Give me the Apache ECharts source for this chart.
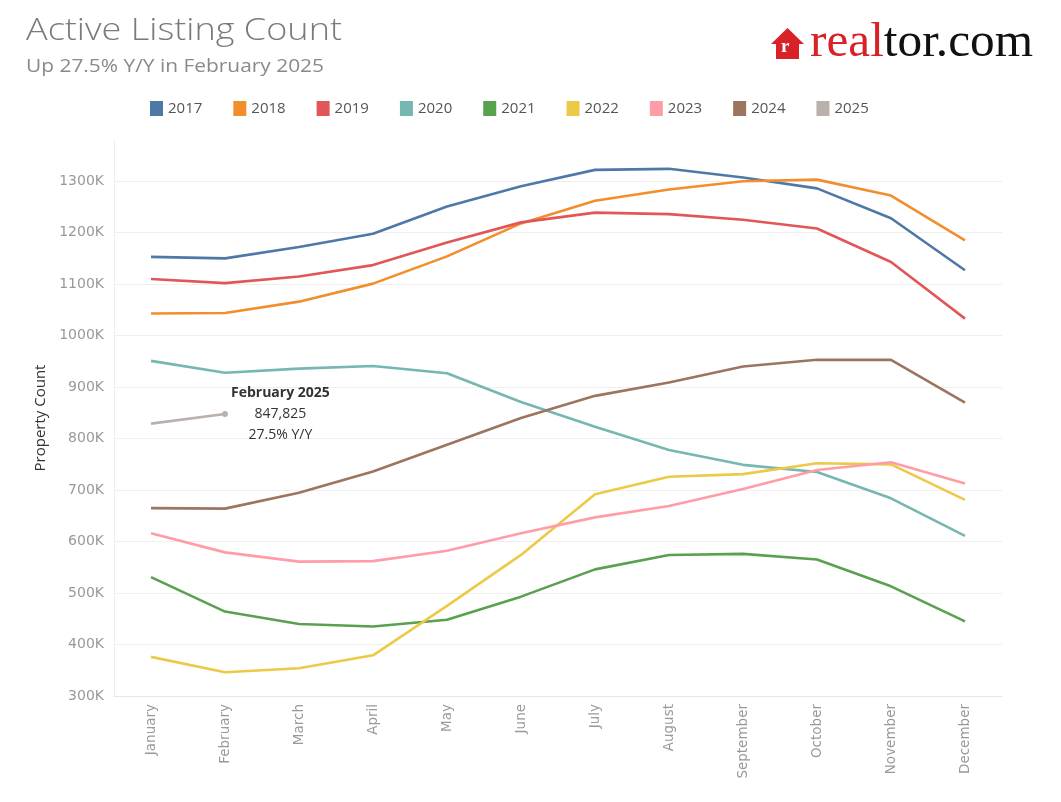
<!DOCTYPE html>
<html><head><meta charset="utf-8">
<script src="https://cdn.jsdelivr.net/npm/echarts@6/dist/echarts.min.js"></script>
<style>html,body{margin:0;padding:0;background:#fff}#c{width:1061px;height:802px}</style>
</head><body><div id="c"></div>
<script>
const months = ['January','February','March','April','May','June','July','August','September','October','November','December'];
const years = ['2017','2018','2019','2020','2021','2022','2023','2024','2025'];
const colors = ['#4e79a7','#f28e2b','#e15759','#76b7b2','#59a14f','#edc948','#ff9da7','#9c755f','#bab0ac'];
const y2017 = [1153000,1150000,1172000,1198000,1251000,1290000,1322000,1324000,1307000,1286000,1228000,1127000];
const y2018 = [1043000,1044000,1066000,1101000,1154000,1218000,1262000,1284000,1300000,1303000,1272000,1185000];
const y2019 = [1110000,1102000,1115000,1137000,1181000,1220000,1239000,1236000,1225000,1208000,1143000,1033000];
const y2020 = [951000,928000,936000,941000,927000,871000,823000,778000,749000,735000,684000,611000];
const y2021 = [531000,464000,440000,435000,448000,493000,546000,574000,576000,565000,513000,445000];
const y2022 = [376000,346000,354000,379000,475000,574000,692000,726000,731000,752000,750000,681000];
const y2023 = [616000,579000,561000,562000,582000,616000,647000,669000,702000,739000,754000,713000];
const y2024 = [665000,664000,695000,736000,788000,840000,883000,909000,940000,953000,953000,870000];
const y2025 = [829000,847825];
const yTicks = [300000,400000,500000,600000,700000,800000,900000,1000000,1100000,1200000,1300000];
const seriesData = [y2017,y2018,y2019,y2020,y2021,y2022,y2023,y2024,y2025];

const titleText = 'Active Listing Count';
const subText = 'Up 27.5% Y/Y in February 2025';

const FONT = 'Open Sans';
const cv = document.createElement('canvas').getContext('2d');
function fitScale(text, font, target){ cv.font = font; const w = cv.measureText(text).width; return w>0 ? target/w : 1; }
const titleFont = '300 31px "Open Sans"';
const subFont = '400 19px "Open Sans"';
const logoFont = '49px "Liberation Serif"';

const chart = echarts.init(document.getElementById('c'), null, {renderer:'canvas'});
const series = seriesData.map((d,i)=>{
  const s = {
    name: years[i], type:'line', data: d.slice(), symbol:'none', smooth:false,
    lineStyle:{width:2.6, color:colors[i]}, itemStyle:{color:colors[i]},
    z: 2 + i, emphasis:{disabled:true}, animation:false
  };
  if (years[i]==='2025') {
    s.data = d.map((v,j)=> j===1 ? {
      value:v, symbol:'circle', symbolSize:6,
      label:{show:true, position:'right', distance:3,
        formatter: ['{a|February 2025}','{b|'+v.toLocaleString('en-US')+'}','{b|27.5% Y/Y}'].join('\n'),
        rich:{
          a:{fontFamily:FONT, fontSize:14, fontWeight:'bold', color:'#333', align:'center', lineHeight:21},
          b:{fontFamily:FONT, fontSize:14, color:'#333', align:'center', lineHeight:21}
        }}
    } : v);
  }
  return s;
});

function render(){
  const sT = fitScale(titleText, titleFont, 316);
  const sS = fitScale(subText, subFont, 298);
  const sL = fitScale('realtor.com', logoFont, 223);
  chart.setOption({
    backgroundColor:'#fff',
    animation:false,
    color: colors,
    legend:{
      data: years, left:145, top:96, icon:'rect', itemWidth:13, itemHeight:15, itemGap:31,
      textStyle:{fontFamily:FONT, fontSize:15, color:'#555'}, selectedMode:false
    },
    grid:{left:114, right:59, top:140, bottom:106},
    xAxis:{
      type:'category', data:months, boundaryGap:true,
      axisLine:{show:true, lineStyle:{color:'#e6e6e6'}}, axisTick:{show:false},
      axisLabel:{rotate:90, color:'#999', fontFamily:'DejaVu Sans', fontSize:13.5, margin:8, interval:0},
      splitLine:{show:false}
    },
    yAxis:{
      type:'value', min:300000, max:1380000, interval:100000,
      name:'Property Count', nameLocation:'middle', nameGap:64,
      nameTextStyle:{fontFamily:FONT, fontSize:15, color:'#333'},
      axisLine:{show:true, lineStyle:{color:'#eeeeee'}}, axisTick:{show:false},
      axisLabel:{color:'#999', fontFamily:'DejaVu Sans', fontSize:14, margin:10, showMaxLabel:false,
        formatter:v=> (yTicks.indexOf(v)>=0 ? (v/1000)+'K' : '')},
      splitLine:{show:true, lineStyle:{color:['#efefef','#efefef','#efefef','#efefef','#efefef','#efefef','#efefef','#efefef','#efefef','#efefef','#efefef','rgba(0,0,0,0)'], width:1}}
    },
    graphic:[
      {type:'text', x:26, y:16, scaleX:sT, originX:0, style:{text:titleText, font:titleFont, fill:'#7a7a7a', verticalAlign:'top'}},
      {type:'text', x:26, y:57, scaleX:sS, originX:0, style:{text:subText, font:subFont, fill:'#8a8a8a', verticalAlign:'top'}},
      {type:'polygon', shape:{points:[[787.5,28],[771,44],[776,44],[776,59],[799,59],[799,44],[804,44]]}, style:{fill:'#d92228'}},
      {type:'text', x:781, y:38, style:{text:'r', fill:'#fff', font:'bold 19px "Liberation Serif"', verticalAlign:'top'}},
      {type:'text', x:810, y:19, scaleX:sL, originX:0, style:{text:'{r|real}{b|tor.com}', verticalAlign:'top', rich:{
        r:{fill:'#d92228', font:logoFont},
        b:{fill:'#111', font:logoFont}
      }}}
    ],
    series: series
  });
}
if (document.fonts && document.fonts.load) {
  Promise.all([document.fonts.load(titleFont), document.fonts.load(subFont), document.fonts.load(logoFont)]).then(render, render);
} else render();
</script></body></html>
